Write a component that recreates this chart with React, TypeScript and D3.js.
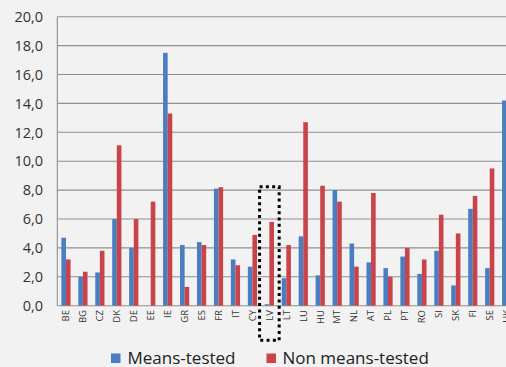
import React from 'react';
import * as d3 from 'd3';

const categories = ['BE','BG','CZ','DK','DE','EE','IE','GR','ES','FR','IT','CY','LV','LT','LU','HU','MT','NL','AT','PL','PT','RO','SI','SK','FI','SE','UK'];
const meansTested = [4.7,2.0,2.3,6.0,4.0,0.0,17.5,4.2,4.4,8.1,3.2,2.7,0.1,1.9,4.8,2.1,8.0,4.3,3.0,2.6,3.4,2.2,3.8,1.4,6.7,2.6,14.2];
const nonMeansTested = [3.2,2.35,3.8,11.1,6.0,7.2,13.3,1.3,4.2,8.2,2.8,4.9,5.8,4.2,12.7,8.3,7.2,2.7,7.8,2.0,4.0,3.2,6.3,5.0,7.6,9.5,2.0];
const yTicks = [0,2,4,6,8,10,12,14,16,18,20];
const seriesNames = ['Means-tested','Non means-tested'];
const highlighted = 'LV';

const W = 506, H = 367;
const BLUE = '#4A7DC2';
const RED = '#C9434A';

export default function App() {
  const step = 16.95;
  const x0 = 57.5;
  const groupW = 9.2;
  const p = 1 - groupW / step;
  const x = d3.scaleBand<string>().domain(categories).range([x0, x0 + categories.length * step]).paddingInner(p).paddingOuter(p / 2);
  const xs = d3.scaleBand<string>().domain(['m','n']).range([0, x.bandwidth()]);
  const y = d3.scaleLinear().domain([0, 20]).range([305.7, 16.7]);
  const fmt = (v: number) => d3.format('.1f')(v).replace('.', ',');
  const axisX = 57.3;
  const font = "'Open Sans', 'DejaVu Sans', sans-serif";

  const hlCenter = (x(highlighted) as number) + x.bandwidth() / 2;

  return (
    <svg width={W} height={H} style={{ position: 'absolute', left: 0, top: 0 }} fontFamily={font}>
      <rect x={0} y={0} width={W} height={H} fill="#f2f2f2" />
      {/* gridlines */}
      {yTicks.map(t => (
        <line key={'g' + t} x1={axisX} x2={W} y1={y(t)} y2={y(t)} stroke="#8f8f8f" strokeWidth={1.1} />
      ))}
      <line x1={axisX} x2={axisX} y1={y(20)} y2={y(0)} stroke="#8f8f8f" strokeWidth={1.1} />
      {/* y tick labels */}
      {yTicks.map(t => (
        <text key={'t' + t} x={43} y={y(t)} dy="0.36em" textAnchor="end" fontSize={14.5} fill="#333">{fmt(t)}</text>
      ))}
      {/* bars */}
      {categories.map((c, i) => {
        const bx = x(c) as number;
        return (
          <g key={c}>
            <rect x={bx + (xs('m') as number)} y={y(meansTested[i])} width={xs.bandwidth()} height={y(0) - y(meansTested[i])} fill={BLUE} />
            <rect x={bx + (xs('n') as number)} y={y(nonMeansTested[i])} width={xs.bandwidth()} height={y(0) - y(nonMeansTested[i])} fill={RED} />
          </g>
        );
      })}
      {/* category labels */}
      {categories.map(c => {
        const cx = (x(c) as number) + x.bandwidth() / 2;
        return (
          <text key={'l' + c} transform={`translate(${cx + 3.3},310) rotate(-90)`} textAnchor="end" fontSize={9.5} fill="#333">{c}</text>
        );
      })}
      {/* highlight box */}
      <rect x={hlCenter - 9.8} y={186.7} width={19.6} height={153.5} fill="none" stroke="#000" strokeWidth={3} strokeDasharray="3,3.3" />
      {/* legend */}
      <rect x={111} y={353.5} width={9.5} height={9.5} fill={BLUE} />
      <text x={127.5} y={363.5} fontSize={17} fill="#222">{seriesNames[0]}</text>
      <rect x={266.5} y={353.5} width={9.5} height={9.5} fill={RED} />
      <text x={282.5} y={363.5} fontSize={17} fill="#222">{seriesNames[1]}</text>
    </svg>
  );
}
